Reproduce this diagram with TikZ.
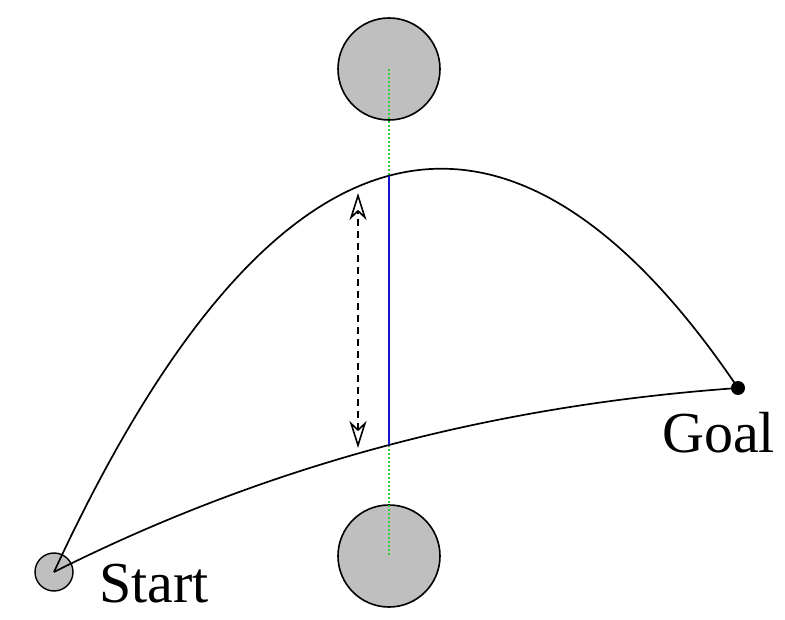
\documentclass[tikz,border=0pt]{standalone}
\usepackage{fontspec}
\setmainfont{Liberation Serif}
\usetikzlibrary{arrows.meta,intersections}

\definecolor{dotgreen}{RGB}{60,200,60}
\definecolor{gapblue}{RGB}{20,20,200}

\begin{document}
\begin{tikzpicture}[x=1pt,y=-1pt,
    obstacle/.style={circle,draw,line width=1.6pt,fill=black!25,minimum size=102pt,inner sep=0pt},
    route/.style={line width=1.7pt},
    labeltext/.style={font=\fontsize{58}{60}\selectfont,inner sep=0pt,anchor=base west}]
    \useasboundingbox (0,0) rectangle (785,620);

    % Obstacles
    \node[obstacle] (top) at (389,69) {};
    \node[obstacle] (bottom) at (389,556) {};
    \draw[dotgreen,line width=1.2pt,dash pattern=on 2pt off 2pt] (top.center) -- (bottom.center);
    \path[name path=vline] (top.center) -- (bottom.center);

    % Start and goal
    \node[circle,draw,line width=1.4pt,fill=black!25,minimum size=38pt,inner sep=0pt] (start) at (54,572) {};
    \coordinate (goal) at (738,388);

    % Two routes
    \draw[route,name path=upper] (start.center) .. controls (300,40) and (540,95) .. (goal);
    \draw[route,name path=lower] (start.center) .. controls (273,462) and (499,405) .. (goal);
    \fill (goal) circle (7pt);

    % Gap between the routes
    \path[name intersections={of=upper and vline,by={ua}}];
    \path[name intersections={of=lower and vline,by={la}}];
    \draw[gapblue,line width=1.6pt] (ua) -- (la);

    % Arrow
    \coordinate (arrtop) at (358,193);
    \coordinate (arrbot) at (358,448);
    \draw[{Stealth[open,length=27pt,width=17pt,inset=8pt]}-{Stealth[open,length=27pt,width=17pt,inset=8pt]},
        line width=1.6pt,dash pattern=on 7pt off 5pt] (arrbot) -- (arrtop);

    % Labels
    \node[labeltext] (startlabel) at (99,602) {Start};
    \node[labeltext] (goallabel) at (662,452) {Goal};
\end{tikzpicture}
\end{document}
